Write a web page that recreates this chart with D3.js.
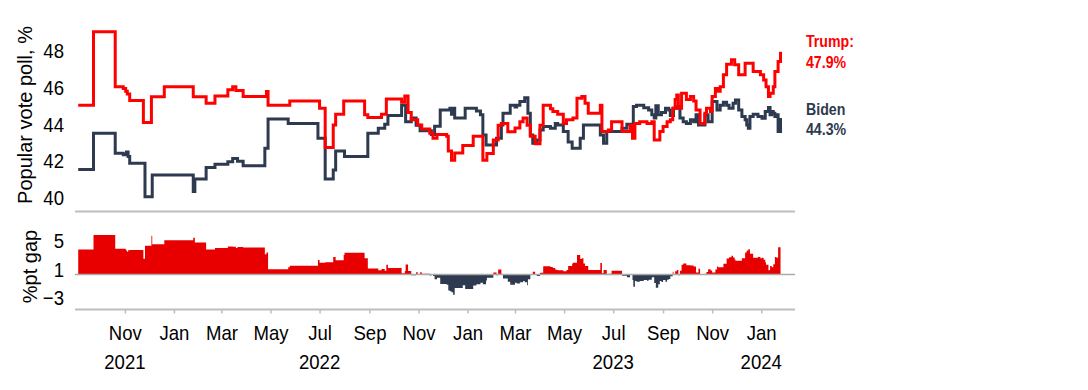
<!DOCTYPE html>
<html><head><meta charset="utf-8">
<script src="https://cdn.jsdelivr.net/npm/d3@7"></script>
<style>body{margin:0;background:#fff} svg{display:block}</style>
</head><body><svg id="c" width="1088" height="390"></svg>
<script>
const trumpPoll = [
["2021-09-04",45.0],["2021-09-23",49.0],["2021-10-20",46.0],["2021-10-30",45.9],["2021-11-02",45.75],
["2021-11-04",45.6],["2021-11-07",45.25],["2021-11-24",44.05],["2021-12-04",45.45],["2021-12-20",46.0],
["2022-01-25",45.45],["2022-02-10",45.1],["2022-02-21",45.5],["2022-03-09",45.83],["2022-03-15",46.0],
["2022-03-19",45.8],["2022-03-28",45.47],["2022-04-26",45.74],["2022-04-28",45.0],["2022-05-25",45.23],
["2022-07-01",44.83],["2022-07-08",42.7],["2022-07-18",43.92],["2022-07-21",44.5],["2022-07-31",45.23],
["2022-08-26",44.47],["2022-08-30",44.32],["2022-09-16",44.5],["2022-09-22",45.34],["2022-10-11",45.16],
["2022-10-15",45.5],["2022-10-19",44.6],["2022-10-23",44.2],["2022-10-31",43.92],["2022-11-05",43.7],
["2022-11-15",43.47],["2022-11-19",43.2],["2022-11-24",43.4],["2022-12-06",43.3],["2022-12-08",42.5],
["2022-12-12",42.0],["2022-12-16",42.4],["2022-12-26",42.8],["2023-01-08",43.3],["2023-01-20",42.0],
["2023-01-25",42.37],["2023-02-02",43.1],["2023-02-08",43.9],["2023-02-12",44.0],["2023-02-20",43.55],
["2023-03-01",43.75],["2023-03-07",44.1],["2023-03-11",44.3],["2023-03-16",43.9],["2023-03-20",43.3],
["2023-03-26",42.9],["2023-04-01",43.9],["2023-04-05",45.0],["2023-04-14",44.8],["2023-04-17",44.65],
["2023-04-23",44.5],["2023-04-30",44.0],["2023-05-04",44.2],["2023-05-12",44.3],["2023-05-17",45.38],
["2023-05-23",45.47],["2023-05-27",45.1],["2023-05-31",44.56],["2023-06-15",45.0],["2023-06-17",43.56],
["2023-06-25",43.65],["2023-06-29",44.1],["2023-07-12",43.56],["2023-07-22",43.9],["2023-07-25",43.2],
["2023-07-28",44.0],["2023-08-03",44.1],["2023-08-12",44.0],["2023-08-18",44.1],["2023-08-21",43.1],
["2023-08-28",43.56],["2023-09-01",43.83],["2023-09-06",44.1],["2023-09-10",44.2],["2023-09-13",44.83],
["2023-09-16",45.3],["2023-09-18",45.55],["2023-09-20",44.83],["2023-09-24",45.65],["2023-09-30",45.3],
["2023-10-05",45.47],["2023-10-09",45.23],["2023-10-12",44.74],["2023-10-17",44.0],["2023-10-23",44.56],
["2023-10-25",44.83],["2023-10-30",44.65],["2023-11-01",45.47],["2023-11-05",45.9],["2023-11-08",45.75],
["2023-11-11",46.0],["2023-11-15",46.65],["2023-11-19",47.23],["2023-11-25",47.47],["2023-11-29",47.2],
["2023-12-04",46.65],["2023-12-12",47.28],["2023-12-22",46.83],["2023-12-31",46.65],["2024-01-04",46.37],
["2024-01-07",46.0],["2024-01-10",45.47],["2024-01-12",45.65],["2024-01-16",46.0],["2024-01-18",46.83],
["2024-01-22",47.37],["2024-01-25",47.9]
];
const bidenPoll = [
["2021-09-04",41.5],["2021-09-23",43.47],["2021-10-20",42.38],["2021-10-30",42.3],["2021-11-03",42.45],
["2021-11-05",42.2],["2021-11-07",41.83],["2021-11-26",40.02],["2021-12-05",41.2],["2022-01-25",40.3],
["2022-01-27",40.98],["2022-02-10",41.6],["2022-02-21",41.78],["2022-03-09",41.92],["2022-03-15",42.1],
["2022-03-21",41.95],["2022-03-28",41.7],["2022-04-24",42.65],["2022-04-28",44.25],["2022-05-23",44.0],
["2022-06-29",43.2],["2022-07-08",40.98],["2022-07-18",41.47],["2022-07-21",42.5],["2022-08-01",42.2],
["2022-08-30",43.47],["2022-09-12",43.74],["2022-09-20",43.96],["2022-09-24",44.43],["2022-10-11",45.0],
["2022-10-16",44.1],["2022-10-23",44.3],["2022-10-29",43.9],["2022-11-03",43.6],["2022-11-17",43.4],
["2022-11-21",43.85],["2022-11-28",44.74],["2022-12-10",44.83],["2022-12-12",44.5],["2022-12-14",44.83],
["2022-12-16",44.3],["2022-12-29",44.83],["2023-01-12",44.68],["2023-01-17",44.47],["2023-01-20",43.38],
["2023-01-24",42.83],["2023-02-06",43.2],["2023-02-12",43.92],["2023-02-14",44.56],["2023-02-23",45.0],
["2023-03-01",44.9],["2023-03-03",45.0],["2023-03-07",45.2],["2023-03-13",45.4],["2023-03-17",44.56],
["2023-03-20",43.38],["2023-03-23",42.92],["2023-03-28",43.1],["2023-04-01",43.65],["2023-04-05",43.83],
["2023-04-14",43.74],["2023-04-20",44.0],["2023-04-23",43.92],["2023-04-30",43.56],["2023-05-06",43.0],
["2023-05-11",42.65],["2023-05-21",43.2],["2023-05-25",43.92],["2023-06-15",43.38],["2023-06-19",42.92],
["2023-06-23",43.56],["2023-07-12",43.74],["2023-07-18",43.96],["2023-07-26",44.92],["2023-07-30",45.0],
["2023-08-08",44.86],["2023-08-14",44.74],["2023-08-18",44.47],["2023-08-21",44.3],["2023-08-23",44.97],
["2023-08-26",44.47],["2023-08-30",44.6],["2023-09-04",44.83],["2023-09-08",44.74],["2023-09-10",44.43],
["2023-09-14",44.83],["2023-09-18",44.92],["2023-09-22",44.3],["2023-09-26",44.1],["2023-09-30",44.0],
["2023-10-05",44.2],["2023-10-09",44.1],["2023-10-12",44.47],["2023-10-15",43.92],["2023-10-23",44.47],
["2023-10-27",44.1],["2023-11-01",45.2],["2023-11-07",44.74],["2023-11-11",45.0],["2023-11-15",45.15],
["2023-11-19",45.0],["2023-11-22",44.83],["2023-11-27",45.1],["2023-11-30",45.28],["2023-12-04",44.74],
["2023-12-08",44.38],["2023-12-12",44.2],["2023-12-14",43.92],["2023-12-16",43.74],["2023-12-18",44.38],
["2023-12-22",44.5],["2023-12-28",44.38],["2024-01-02",44.29],["2024-01-06",44.65],["2024-01-10",44.87],
["2024-01-12",44.47],["2024-01-14",44.65],["2024-01-16",44.56],["2024-01-18",44.38],["2024-01-20",44.47],
["2024-01-22",43.56],["2024-01-25",44.3]
];
const monthTicks = ["2021-11-01","2022-01-01","2022-03-01","2022-05-01","2022-07-01","2022-09-01","2022-11-01",
  "2023-01-01","2023-03-01","2023-05-01","2023-07-01","2023-09-01","2023-11-01","2024-01-01"];
const monthLabels = ["Nov","Jan","Mar","May","Jul","Sep","Nov","Jan","Mar","May","Jul","Sep","Nov","Jan"];
const yearLabels = ["2021","2022","2023","2024"];
const yearDates = ["2021-11-01","2022-07-01","2023-07-01","2024-01-01"];
const pollTicks = [40,42,44,46,48];
const gapTicks = [5,1,-3];
const seriesNames = ["Trump:","Biden"];
const latestValues = [47.9,44.3];
const axisTitles = ["Popular vote poll, %","%pt gap"];

const RED = "#ff0000", RED_AREA = "#e80000", NAVY = "#2e3a4f", GRID = "#bdbdbd";
const FONT = "'Liberation Sans', Arial, sans-serif";
const SQ = 0.885;

const parse = d3.utcParse("%Y-%m-%d");
const svg = d3.select("#c");
const x = d3.scaleUtc().domain([parse("2021-08-31"), parse("2024-02-12")]).range([75, 795]);
const y = d3.scaleLinear().domain([40, 48]).range([197, 50]);
const yg = d3.scaleLinear().domain([0, 5]).range([274.5, 238.8]);

const T = trumpPoll.map(d => ({date: parse(d[0]), v: d[1]}));
const B = bidenPoll.map(d => ({date: parse(d[0]), v: d[1]}));
const allDates = Array.from(new Set(trumpPoll.map(d => d[0]).concat(bidenPoll.map(d => d[0])))).sort().map(parse);
function stepVal(s, dt) {
  const i = d3.bisectRight(s.map(d => d.date), dt) - 1;
  return s[Math.max(0, i)].v;
}
const gap = allDates.map(dt => ({date: dt, g: stepVal(T, dt) - stepVal(B, dt)}));

// gap areas
svg.append("path").datum(gap)
  .attr("fill", RED_AREA)
  .attr("d", d3.area().curve(d3.curveStepAfter).x(d => x(d.date)).y0(yg(0)).y1(d => yg(Math.max(0, d.g))));
svg.append("path").datum(gap)
  .attr("fill", NAVY)
  .attr("d", d3.area().curve(d3.curveStepAfter).x(d => x(d.date)).y0(yg(0)).y1(d => yg(Math.min(0, d.g))));

// frame lines
const [x0, x1] = x.range();
svg.append("line").attr("x1", x0).attr("x2", x1).attr("y1", 211.5).attr("y2", 211.5).attr("stroke", GRID).attr("stroke-width", 2);
svg.append("line").attr("x1", x0).attr("x2", x1).attr("y1", 309.5).attr("y2", 309.5).attr("stroke", GRID).attr("stroke-width", 2);
svg.append("line").attr("x1", x0).attr("x2", x1).attr("y1", yg(0)).attr("y2", yg(0)).attr("stroke", "#aaaaaa").attr("stroke-width", 1.3);

// lines
const line = d3.line().curve(d3.curveStepAfter).x(d => x(d.date)).y(d => y(d.v));
svg.append("path").datum(B).attr("fill", "none").attr("stroke", NAVY).attr("stroke-width", 3).attr("d", line);
svg.append("path").datum(T).attr("fill", "none").attr("stroke", RED).attr("stroke-width", 3).attr("d", line);

function styleText(sel) {
  sel.attr("font-family", FONT).attr("font-size", 21).attr("fill", "#000").attr("transform", `scale(${SQ},1)`);
}

// x axis
const gx = svg.append("g").attr("transform", "translate(0,309.5)")
  .call(d3.axisBottom(x).tickValues(monthTicks.map(parse)).tickFormat((d, i) => monthLabels[i]).tickSize(4).tickPadding(12));
gx.select(".domain").remove();
gx.selectAll(".tick line").attr("stroke", GRID).attr("stroke-width", 1.5);
gx.selectAll(".tick text").call(styleText);

// year labels
svg.append("g").selectAll("text").data(yearLabels).join("text")
  .attr("transform", (d, i) => `translate(${x(parse(yearDates[i]))},369) scale(${SQ},1)`)
  .attr("text-anchor", "middle").attr("font-family", FONT).attr("font-size", 21).attr("fill", "#000")
  .text(d => d);

// y axes
const gy = svg.append("g").attr("transform", "translate(64,0)")
  .call(d3.axisLeft(y).tickValues(pollTicks).tickSize(0).tickPadding(0));
gy.select(".domain").remove();
gy.selectAll(".tick text").call(styleText).attr("dy", "0.36em");

const gyg = svg.append("g").attr("transform", "translate(64,1.5)")
  .call(d3.axisLeft(yg).tickValues(gapTicks).tickFormat(d3.format("d")).tickSize(0).tickPadding(0));
gyg.select(".domain").remove();
gyg.selectAll(".tick text").call(styleText).attr("dy", "0.36em");

// axis titles
svg.append("text").attr("transform", "translate(32,115) rotate(-90)").attr("text-anchor", "middle")
  .attr("font-family", FONT).attr("font-size", 20).attr("fill", "#000").text(axisTitles[0]);
svg.append("text").attr("transform", "translate(37,266.5) rotate(-90)").attr("text-anchor", "middle")
  .attr("font-family", FONT).attr("font-size", 20).attr("fill", "#000").text(axisTitles[1]);

// end labels
const labelCols = [RED, NAVY];
const labelY = [[47, 68], [115, 135]];
seriesNames.forEach((n, i) => {
  svg.append("text").attr("transform", `translate(806,${labelY[i][0]}) scale(${SQ},1)`)
    .attr("font-family", FONT).attr("font-size", 16).attr("font-weight", "bold").attr("fill", labelCols[i]).text(n);
  svg.append("text").attr("transform", `translate(806,${labelY[i][1]}) scale(${SQ},1)`)
    .attr("font-family", FONT).attr("font-size", 16).attr("font-weight", "bold").attr("fill", labelCols[i])
    .text(latestValues[i].toFixed(1) + "%");
});
</script>
</body></html>
